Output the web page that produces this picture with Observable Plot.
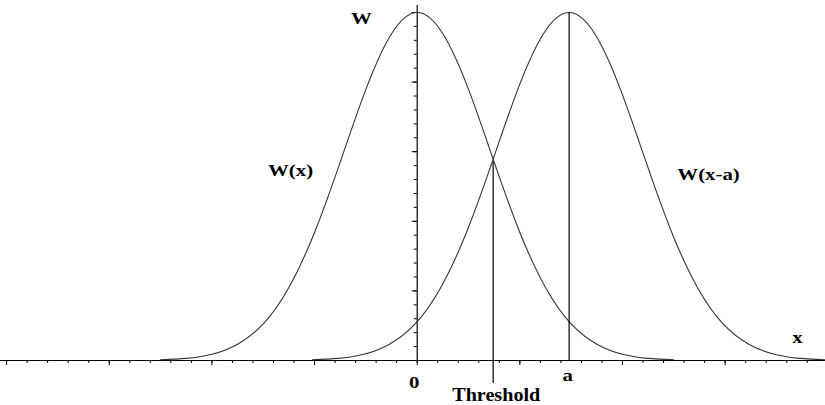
<!DOCTYPE html>
<html>
<head>
<meta charset="utf-8">
<script src="https://cdn.jsdelivr.net/npm/d3@7"></script>
<script src="https://cdn.jsdelivr.net/npm/@observablehq/plot@0.6"></script>
<style>
  html, body { margin: 0; padding: 0; background: #fff; }
  svg { display: block; }
</style>
</head>
<body>
<div id="chart"></div>
<script>
// ---- data ----
const aValue = 1.48;          // position of "a"
const thresholdValue = 0.74;  // position of the threshold line
const crossingValue = 0.57;   // height where the two curves cross

// W(x)
const wX = [-2.5, -2.25, -2.0, -1.75, -1.5, -1.25, -1.0, -0.75, -0.5, -0.25, 0,
            0.25, 0.5, 0.75, 1.0, 1.25, 1.5, 1.75, 2.0, 2.25, 2.5];
const wY = [0.002, 0.006, 0.018, 0.047, 0.105, 0.21, 0.368, 0.57, 0.779, 0.939, 1.0,
            0.939, 0.779, 0.57, 0.368, 0.21, 0.105, 0.047, 0.018, 0.006, 0.002];

// W(x-a)
const waX = [-1.02, -0.77, -0.52, -0.27, -0.02, 0.23, 0.48, 0.73, 0.98, 1.23, 1.48,
             1.73, 1.98, 2.23, 2.48, 2.73, 2.98, 3.23, 3.48, 3.73, 3.98];
const waY = [0.002, 0.006, 0.018, 0.047, 0.105, 0.21, 0.368, 0.57, 0.779, 0.939, 1.0,
             0.939, 0.779, 0.57, 0.368, 0.21, 0.105, 0.047, 0.018, 0.006, 0.002];

// axis ticks (no numbers on them)
const xMinorTicks = d3.range(-40, 41, 2).map(d => d / 10);
const xMajorTicks = [-4, -3, -2, -1, 0, 1, 2, 3, 4];
const yMinorTicks = d3.range(1, 26).map(d => d * 0.04);
const yMajorTicks = [0.2, 0.4, 0.6, 0.8, 1.0];

// text labels
const labelText = ["W", "W(x)", "W(x-a)", "x", "0", "a", "Threshold"];
const labelX    = [-0.543, -1.234, 2.838, 3.705, -0.03, 1.465, 0.77];
const labelY    = [0.983, 0.546, 0.534, 0.066, -0.063, -0.043, -0.098];

// ---- build ----
const curve1 = wX.map((x, i) => ({x, y: wY[i]}));
const curve2 = waX.map((x, i) => ({x, y: waY[i]}));
const labels = labelText.map((t, i) => ({t, x: labelX[i], y: labelY[i]}));

const x0px = 416.7;
const unit = 102.65;
const font = "'Liberation Serif', 'Times New Roman', serif";

const chart = Plot.plot({
  width: 825,
  height: 405,
  marginTop: 0,
  marginRight: 0,
  marginBottom: 45,
  marginLeft: x0px,
  style: {background: "#fff", color: "#000", overflow: "visible"},
  x: {domain: [-4, 4], range: [x0px - 4 * unit, x0px + 4 * unit]},
  y: {domain: [0, 1], range: [360, 12]},
  marks: [
    // horizontal axis line
    Plot.ruleY([0], {x1: -4.2, x2: 4.2, stroke: "#000", strokeWidth: 1.2}),
    // vertical axis line
    Plot.ruleX([0], {y1: 0, y2: 1.02, stroke: "#000", strokeWidth: 1.2}),
    // x ticks
    Plot.axisX({ticks: xMinorTicks, tickSize: 3, tickFormat: () => "", label: null, anchor: "bottom"}),
    Plot.axisX({ticks: xMajorTicks, tickSize: 5, tickFormat: () => "", label: null, anchor: "bottom"}),
    // y ticks
    Plot.axisY({ticks: yMinorTicks, tickSize: 3, tickFormat: () => "", label: null, anchor: "left"}),
    Plot.axisY({ticks: yMajorTicks, tickSize: 5, tickFormat: () => "", label: null, anchor: "left"}),
    // curves
    Plot.line(curve1, {x: "x", y: "y", curve: "natural", stroke: "#333", strokeWidth: 1.1}),
    Plot.line(curve2, {x: "x", y: "y", curve: "natural", stroke: "#333", strokeWidth: 1.1}),
    // threshold and a lines
    Plot.ruleX([thresholdValue], {y1: crossingValue, y2: -0.066, stroke: "#000", strokeWidth: 1.2}),
    Plot.ruleX([aValue], {y1: 0, y2: 1.0, stroke: "#000", strokeWidth: 1.2}),
    // labels
    Plot.text(labels, {
      x: "x", y: "y", text: "t",
      fontFamily: font, fontWeight: "bold",
      fontSize: d => d.t === "Threshold" ? 19 : 16,
      fill: "#000"
    })
  ]
});

document.getElementById("chart").appendChild(chart);

// the original's lettering is drawn horizontally stretched
d3.select(chart).selectAll("text").each(function () {
  const t = this.textContent;
  if (!labelText.includes(t)) return;
  const k = t === "Threshold" ? 1.06 : 1.3;
  const w = this.getComputedTextLength();
  if (w > 0) {
    this.setAttribute("textLength", (w * k).toFixed(1));
    this.setAttribute("lengthAdjust", "spacingAndGlyphs");
  }
});
</script>
</body>
</html>
